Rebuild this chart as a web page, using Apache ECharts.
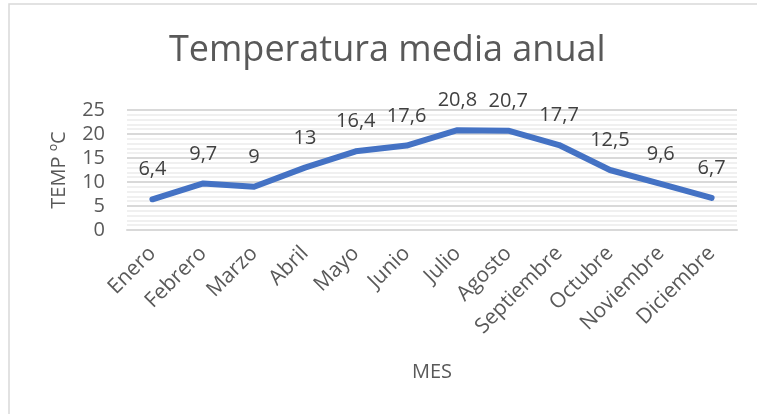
<!DOCTYPE html>
<html><head><meta charset="utf-8">
<script src="https://cdn.jsdelivr.net/npm/echarts@6/dist/echarts.min.js"></script>
<style>html,body{margin:0;padding:0;background:#fff}#c{width:757px;height:414px}</style>
</head><body><div id="c"></div>
<script>
const categories = ['Enero','Febrero','Marzo','Abril','Mayo','Junio','Julio','Agosto','Septiembre','Octubre','Noviembre','Diciembre'];
const temps = [6.4, 9.7, 9, 13, 16.4, 17.6, 20.8, 20.7, 17.7, 12.5, 9.6, 6.7];
const yTicks = [0, 5, 10, 15, 20, 25];
const titleText = 'Temperatura media anual';
const xName = 'MES';
const yName = 'TEMP ºC';

const FONT = '"Open Sans", "Noto Sans", sans-serif';
const chart = echarts.init(document.getElementById('c'), null, {renderer: 'canvas'});
chart.setOption({
  animation: false,
  backgroundColor: '#fff',
  graphic: [{type: 'rect', shape: {x: 9, y: 4, width: 800, height: 450}, style: {fill: 'none', stroke: '#d9d9d9', lineWidth: 1.5}}],
  title: {text: titleText, left: 164, top: 28, textStyle: {fontFamily: FONT, fontSize: 36, fontWeight: 'normal', color: '#595959'}},
  grid: {left: 127, right: 20, top: 110, bottom: 184},
  xAxis: {
    type: 'category', data: categories, boundaryGap: true,
    name: xName, nameLocation: 'middle', nameGap: 132,
    nameTextStyle: {fontFamily: FONT, fontSize: 20, color: '#595959'},
    axisLine: {show: true, lineStyle: {color: '#d9d9d9', width: 2}},
    axisTick: {show: false},
    axisLabel: {rotate: 45, margin: 20, fontFamily: FONT, fontSize: 21, color: '#595959', interval: 0}
  },
  yAxis: {
    type: 'value', min: yTicks[0], max: yTicks[yTicks.length - 1], interval: 5,
    name: yName, nameLocation: 'middle', nameGap: 58, nameRotate: 90,
    nameTextStyle: {fontFamily: FONT, fontSize: 20, color: '#595959'},
    axisLine: {show: false}, axisTick: {show: false},
    axisLabel: {margin: 22, fontFamily: FONT, fontSize: 20, color: '#595959'},
    splitLine: {show: true, lineStyle: {color: '#d9d9d9', width: 2}},
    minorTick: {show: false, splitNumber: 5},
    minorSplitLine: {show: true, lineStyle: {color: '#ececec', width: 1.5}}
  },
  series: [{
    type: 'line', data: temps,
    symbol: 'circle', symbolSize: 1,
    itemStyle: {color: '#4472c4'},
    lineStyle: {color: '#4472c4', width: 6, cap: 'round', join: 'round'},
    label: {show: true, position: 'top', distance: 19, fontFamily: FONT, fontSize: 20, color: '#404040',
      formatter: p => String(p.value).replace('.', ',')}
  }]
});
</script></body></html>
